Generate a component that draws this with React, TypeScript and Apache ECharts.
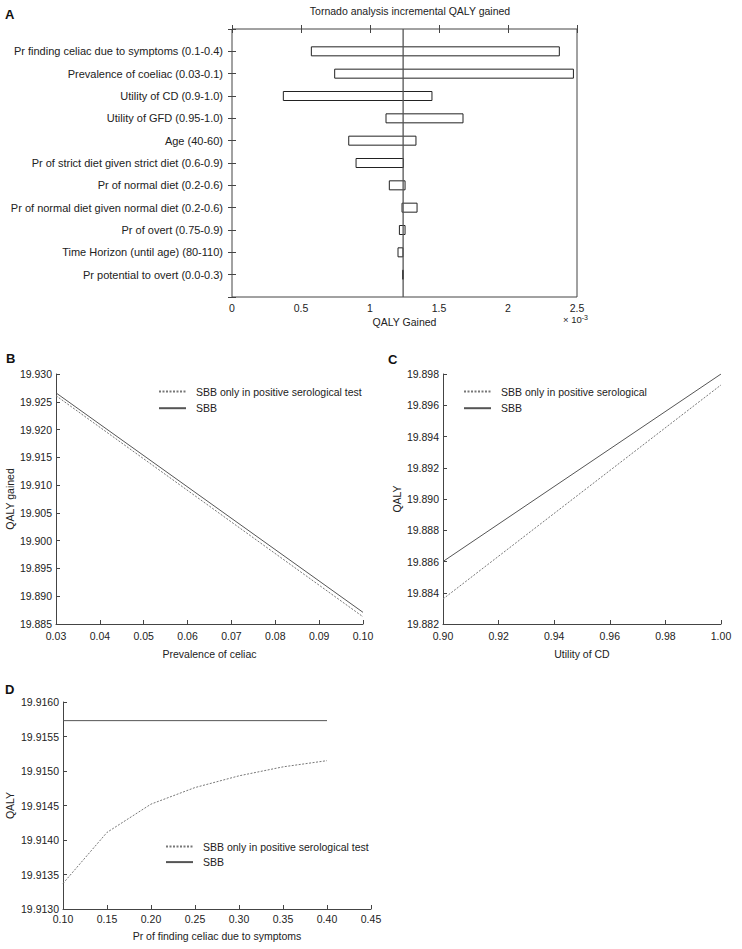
import React, { useEffect, useRef } from 'react';
import * as echarts from 'echarts';

// ---------- Panel A: tornado ----------
const tornadoLabels = [
  'Pr finding celiac due to symptoms (0.1-0.4)',
  'Prevalence of coeliac (0.03-0.1)',
  'Utility of CD (0.9-1.0)',
  'Utility of GFD (0.95-1.0)',
  'Age (40-60)',
  'Pr of strict diet given strict diet (0.6-0.9)',
  'Pr of normal diet (0.2-0.6)',
  'Pr of normal diet given normal diet (0.2-0.6)',
  'Pr of overt (0.75-0.9)',
  'Time Horizon (until age) (80-110)',
  'Pr potential to overt (0.0-0.3)',
];
const tornadoLow = [0.575, 0.744, 0.372, 1.116, 0.846, 0.899, 1.14, 1.232, 1.213, 1.203, 1.236];
const tornadoHigh = [2.372, 2.474, 1.449, 1.674, 1.333, 1.242, 1.254, 1.341, 1.254, 1.239, 1.242];
const tornadoBase = 1.24;
const tornadoXTicks = [0, 0.5, 1, 1.5, 2, 2.5];

// ---------- Panel B: prevalence of celiac ----------
const prevX = [0.03, 0.1];
const prevSBBOnlyPositive = [19.9261, 19.8863];
const prevSBB = [19.9266, 19.8871];

// ---------- Panel C: utility of CD ----------
const utilX = [0.9, 1.0];
const utilSBBOnlyPositive = [19.8836, 19.8973];
const utilSBB = [19.886, 19.898];

// ---------- Panel D: Pr finding celiac due to symptoms ----------
const symX = [0.1, 0.15, 0.2, 0.25, 0.3, 0.35, 0.4];
const symSBBOnlyPositive = [19.91337, 19.91411, 19.91452, 19.91476, 19.91493, 19.91506, 19.91515];
const symSBB = [19.91573, 19.91573, 19.91573, 19.91573, 19.91573, 19.91573, 19.91573];

const NAME_ONLY = 'SBB only in positive serological test';
const NAME_ONLY_C = 'SBB only in positive serological';
const NAME_SBB = 'SBB';

const FONT = '"Liberation Sans", Arial, sans-serif';
const TXT = '#222';
const AX = '#444';
const SOLID = '#555';
const DASHED = '#777';

const zip = (xs: number[], ys: number[]) => xs.map((x, i) => [x, ys[i]]);

function lineAxisX(grid: number, min: number, max: number, interval: number, dec: number, name: string, labelMargin: number, nameGap: number) {
  return {
    type: 'value', gridIndex: grid, min, max, interval,
    name, nameLocation: 'middle', nameGap,
    nameTextStyle: { fontFamily: FONT, fontSize: 10.5, color: TXT },
    axisLine: { show: true, lineStyle: { color: AX, width: 1 } },
    axisTick: { show: true, inside: true, length: 4, lineStyle: { color: AX } },
    axisLabel: { margin: labelMargin, fontFamily: FONT, fontSize: 10.5, color: TXT, formatter: (v: number) => v.toFixed(dec) },
    splitLine: { show: false },
  };
}
function lineAxisY(grid: number, min: number, max: number, interval: number, dec: number, name: string, nameGap: number) {
  return {
    type: 'value', gridIndex: grid, min, max, interval,
    name, nameLocation: 'middle', nameGap, nameRotate: 90,
    nameTextStyle: { fontFamily: FONT, fontSize: 10.5, color: TXT },
    axisLine: { show: true, lineStyle: { color: AX, width: 1 } },
    axisTick: { show: true, inside: true, length: 4, lineStyle: { color: AX } },
    axisLabel: { margin: 4, fontFamily: FONT, fontSize: 10.5, color: TXT, formatter: (v: number) => v.toFixed(dec) },
    splitLine: { show: false },
  };
}
function dashedSeries(name: string, axis: number, data: number[][]) {
  return {
    type: 'line', name, xAxisIndex: axis, yAxisIndex: axis, data, symbol: 'none', showSymbol: false,
    lineStyle: { color: DASHED, width: 1, type: [2, 1.5] }, itemStyle: { color: DASHED },
  };
}
function solidSeries(name: string, axis: number, data: number[][]) {
  return {
    type: 'line', name, xAxisIndex: axis, yAxisIndex: axis, data, symbol: 'none', showSymbol: false,
    lineStyle: { color: SOLID, width: 1, type: 'solid' }, itemStyle: { color: SOLID },
  };
}
function legend(names: string[], left: number, top: number, gap: number) {
  return {
    orient: 'vertical', left, top, itemWidth: 27, itemHeight: 14, itemGap: gap,
    data: names, selectedMode: false,
    itemStyle: { opacity: 0 },
    textStyle: { fontFamily: FONT, fontSize: 10.5, color: TXT, padding: [0, 0, 0, 5] },
  };
}

export default function App() {
  const ref = useRef<HTMLDivElement>(null);
  useEffect(() => {
    if (!ref.current) return;
    const chart = echarts.init(ref.current, null, { renderer: 'svg' });
    const tickFont = { fontFamily: FONT, fontSize: 11, color: TXT };
    const option: any = {
      animation: false,
      backgroundColor: '#fff',
      title: {
        text: 'Tornado analysis incremental QALY gained', left: 405, top: 0, textAlign: 'center',
        textStyle: { fontFamily: FONT, fontSize: 10.5, fontWeight: 'normal', color: TXT },
      },
      grid: [
        { left: 232, top: 29, width: 345, height: 268, show: true, borderColor: AX, borderWidth: 1, backgroundColor: 'transparent', outerBoundsMode: 'none' },
        { left: 56, top: 374, width: 307, height: 250, outerBoundsMode: 'none' },
        { left: 443, top: 374, width: 278, height: 250, outerBoundsMode: 'none' },
        { left: 63, top: 702, width: 308, height: 207, outerBoundsMode: 'none' },
      ],
      xAxis: [
        {
          type: 'value', gridIndex: 0, min: tornadoXTicks[0], max: tornadoXTicks[tornadoXTicks.length - 1], interval: 0.5,
          name: 'QALY Gained', nameLocation: 'middle', nameGap: 19,
          nameTextStyle: { fontFamily: FONT, fontSize: 10.5, color: TXT },
          axisLine: { show: false }, axisTick: { show: true, inside: true, length: 4, lineStyle: { color: AX } },
          axisLabel: { margin: 5, ...tickFont, fontSize: 10.5 }, splitLine: { show: false },
        },
        {
          type: 'value', gridIndex: 0, position: 'top', min: tornadoXTicks[0], max: tornadoXTicks[tornadoXTicks.length - 1], interval: 0.5,
          axisLine: { show: false }, axisTick: { show: true, inside: true, length: 4, lineStyle: { color: AX } },
          axisLabel: { show: false }, splitLine: { show: false },
        },
        lineAxisX(1, 0.03, 0.1, 0.01, 2, 'Prevalence of celiac', 6, 24),
        lineAxisX(2, 0.9, 1.0, 0.02, 2, 'Utility of CD', 6, 24),
        lineAxisX(3, 0.1, 0.45, 0.05, 2, 'Pr of finding celiac due to symptoms', 4, 21),
      ],
      yAxis: [
        {
          type: 'value', gridIndex: 0, min: 0, max: tornadoLabels.length + 1, interval: 1, inverse: true,
          axisLine: { show: false }, axisTick: { show: true, inside: true, length: 4, lineStyle: { color: AX } },
          axisLabel: { margin: 9, ...tickFont, formatter: (v: number) => tornadoLabels[v - 1] || '' },
          splitLine: { show: false },
        },
        {
          type: 'value', gridIndex: 0, position: 'right', min: 0, max: tornadoLabels.length + 1, interval: 1, inverse: true,
          axisLine: { show: false }, axisTick: { show: true, inside: true, length: 4, lineStyle: { color: AX } },
          axisLabel: { show: false }, splitLine: { show: false },
        },
        lineAxisY(1, 19.885, 19.93, 0.005, 3, 'QALY gained', 40),
        lineAxisY(2, 19.882, 19.898, 0.002, 3, 'QALY', 40),
        lineAxisY(3, 19.913, 19.916, 0.0005, 4, 'QALY', 48),
      ],
      legend: [
        legend([NAME_ONLY, NAME_SBB], 153, 381, 5.4),
        legend([NAME_ONLY_C, NAME_SBB], 458, 381, 5.4),
        legend([NAME_ONLY, NAME_SBB], 160, 836, 4.3),
      ],
      series: [
        {
          type: 'custom', name: 'tornado', xAxisIndex: 0, yAxisIndex: 0,
          encode: { x: [0, 1], y: 2 },
          data: tornadoLabels.map((_, i) => [tornadoLow[i], tornadoHigh[i], i + 1]),
          renderItem: (_p: any, api: any) => {
            const a = api.coord([api.value(0), api.value(2)]);
            const b = api.coord([api.value(1), api.value(2)]);
            const h = 9;
            return {
              type: 'rect',
              shape: { x: a[0], y: a[1] - h / 2, width: Math.max(b[0] - a[0], 0.8), height: h },
              style: { fill: '#fff', stroke: '#222', lineWidth: 1 },
            };
          },
          z: 2,
        },
        {
          type: 'line', name: 'base', xAxisIndex: 0, yAxisIndex: 0, symbol: 'none',
          data: [[tornadoBase, 0], [tornadoBase, tornadoLabels.length + 1]],
          lineStyle: { color: '#555', width: 1.3 }, z: 5,
        },
        dashedSeries(NAME_ONLY, 2, zip(prevX, prevSBBOnlyPositive)),
        solidSeries(NAME_SBB, 2, zip(prevX, prevSBB)),
        dashedSeries(NAME_ONLY_C, 3, zip(utilX, utilSBBOnlyPositive)),
        solidSeries(NAME_SBB, 3, zip(utilX, utilSBB)),
        dashedSeries(NAME_ONLY, 4, zip(symX, symSBBOnlyPositive)),
        solidSeries(NAME_SBB, 4, zip(symX, symSBB)),
      ],
      graphic: [
        { type: 'text', left: 5, top: 8, style: { text: 'A', font: `bold 13px ${FONT}`, fill: '#111' } },
        { type: 'text', left: 6, top: 352, style: { text: 'B', font: `bold 13px ${FONT}`, fill: '#111' } },
        { type: 'text', left: 388, top: 353, style: { text: 'C', font: `bold 13px ${FONT}`, fill: '#111' } },
        { type: 'text', left: 5, top: 683, style: { text: 'D', font: `bold 13px ${FONT}`, fill: '#111' } },
        {
          type: 'text', left: 563, top: 314,
          style: {
            text: '× 10{sup|-3}', fontFamily: FONT, fontSize: 9.5, fill: TXT,
            rich: { sup: { fontFamily: FONT, fontSize: 7, fill: TXT, verticalAlign: 'top', lineHeight: 8 } },
          },
        },
      ],
    };
    chart.setOption(option);
    return () => chart.dispose();
  }, []);
  return <div ref={ref} style={{ position: 'fixed', left: 0, top: 0, width: 742, height: 949, background: '#fff' }} />;
}
